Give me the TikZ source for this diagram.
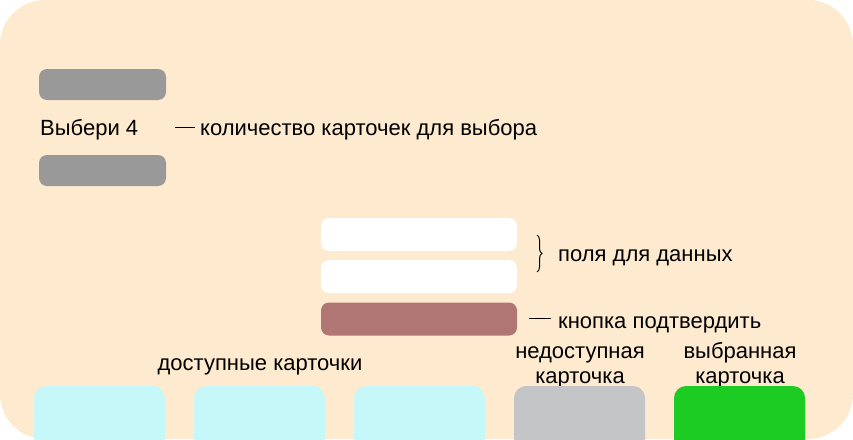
\documentclass[tikz,border=0pt]{standalone}
\usepackage{fontspec}
\setmainfont{Liberation Sans}
\usetikzlibrary{decorations.pathreplacing}
\definecolor{bgc}{HTML}{FEEACE}
\definecolor{barc}{HTML}{999999}
\definecolor{btnc}{HTML}{B07673}
\definecolor{cardc}{HTML}{C6F7F9}
\definecolor{offc}{HTML}{C4C5C7}
\definecolor{selc}{HTML}{1DCC22}
\tikzset{
  box/.style={draw=none, inner sep=0pt, rounded corners=8pt},
  graybar/.style={box, fill=barc, minimum width=127pt, minimum height=31pt},
  field/.style={box, fill=white, minimum width=196pt, minimum height=33pt},
  button/.style={box, fill=btnc, minimum width=196pt, minimum height=33pt},
  card/.style={draw=none, inner sep=0pt, rounded corners=12pt, minimum width=131pt, minimum height=80pt},
  lbl/.style={inner sep=0pt, font=\fontsize{22}{26}\selectfont, text=black},
  tick/.style={draw=black, line width=1pt}
}
\begin{document}
\begin{tikzpicture}[x=1pt,y=-1pt]
\useasboundingbox (0,0) rectangle (853,439);
\clip (0,0) rectangle (853,439);
\fill[bgc, rounded corners=45pt] (0,0) rectangle (853,439);
% counter block
\node[graybar] (bar1) at (102.5,84.5) {};
\node[lbl, anchor=base west] (count) at (40,135) {Выбери 4};
\node[graybar] (bar2) at (102.5,170.5) {};
\coordinate (t1a) at (175,127);
\coordinate (t1b) at (195,127);
\draw[tick] (t1a) -- (t1b);
\node[lbl, anchor=base west] (countlbl) at (200,135) {количество карточек для выбора};
% fields
\node[field] (f1) at (419,234.5) {};
\node[field] (f2) at (419,276.5) {};
\node[button] (btn) at (419,319) {};
\coordinate (bra) at (537,235);
\coordinate (brb) at (537,272);
\draw[line width=1pt, decorate, decoration={brace, amplitude=5pt}] (bra) -- (brb);
\node[lbl, anchor=base west] (fieldlbl) at (558,261) {поля для данных};
\coordinate (t2a) at (529,318);
\coordinate (t2b) at (551,318);
\draw[tick] (t2a) -- (t2b);
\node[lbl, anchor=base west] (btnlbl) at (558,328) {кнопка подтвердить};
% cards
\node[lbl, anchor=base] (avail) at (260,370) {доступные карточки};
\node[lbl, anchor=base] (off1) at (580,358) {недоступная};
\node[lbl, anchor=base] (off2) at (580,383) {карточка};
\node[lbl, anchor=base] (sel1) at (740,358) {выбранная};
\node[lbl, anchor=base] (sel2) at (740,383) {карточка};
\node[card, fill=cardc] (c1) at (99.5,426) {};
\node[card, fill=cardc] (c2) at (259.5,426) {};
\node[card, fill=cardc] (c3) at (419.5,426) {};
\node[card, fill=offc] (c4) at (579.5,426) {};
\node[card, fill=selc] (c5) at (739.5,426) {};
\end{tikzpicture}
\end{document}
